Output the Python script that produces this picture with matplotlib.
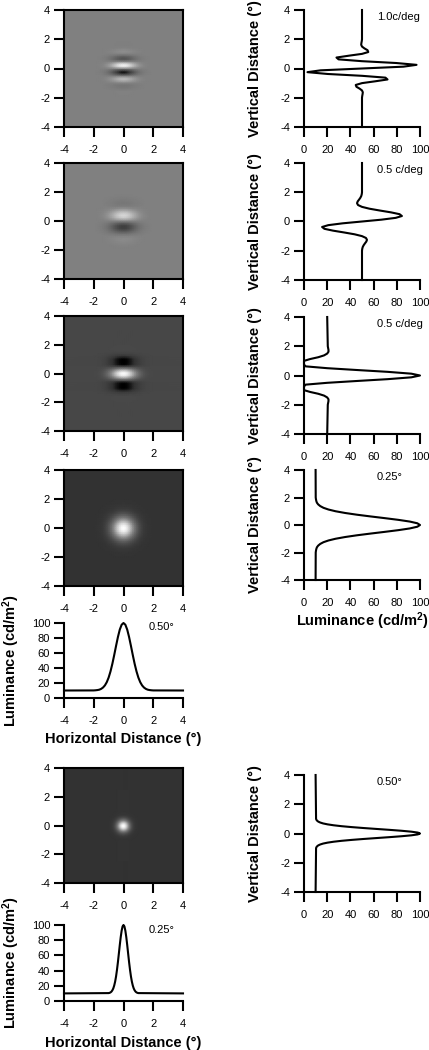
# Gabor / Gaussian stimuli: images with vertical and horizontal luminance profiles
import numpy as np
import matplotlib.pyplot as plt
from matplotlib.colors import LinearSegmentedColormap

plt.rcParams['font.family'] = ['Liberation Sans', 'DejaVu Sans']
plt.rcParams['mathtext.fontset'] = 'custom'
plt.rcParams['mathtext.rm'] = 'Liberation Sans'
plt.rcParams['mathtext.bf'] = 'Liberation Sans:bold'
plt.rcParams['axes.unicode_minus'] = False  # plain hyphen minus as in the original

# ------------------ data ------------------
# sample positions (deg) for the profiles of rows 1-4
pos = [-4, -2.0, -1.875, -1.75, -1.625, -1.5, -1.375, -1.25, -1.125, -1.0,
       -0.875, -0.75, -0.625, -0.5, -0.375, -0.25, -0.125, 0.0,
       0.125, 0.25, 0.375, 0.5, 0.625, 0.75, 0.875, 1.0,
       1.125, 1.25, 1.375, 1.5, 1.625, 1.75, 1.875, 2.0, 4]

# vertical luminance profiles (cd/m2)
lum_gabor_1c = [50, 50, 50.2, 50.5, 50.7, 50, 47.9, 45.2, 44.6, 50,
                61.4, 72.0, 70.2, 50, 20.5, 3.0, 14.3, 50,
                85.7, 97.0, 79.5, 50, 29.8, 28.0, 38.6, 50,
                55.4, 54.8, 52.1, 50, 49.3, 49.5, 49.8, 50, 50]
lum_gabor_05c = [50, 50, 50.2, 50.6, 51.4, 52.5, 53.7, 54.3, 53.4, 50,
                 43.6, 34.6, 25.0, 17.6, 15.6, 20.9, 33.3, 50,
                 66.7, 79.1, 84.4, 82.4, 75.0, 65.4, 56.4, 50,
                 46.6, 45.7, 46.3, 47.5, 48.6, 49.4, 49.8, 50, 50]
lum_gabor_05c_dark = [20, 20.5, 20.8, 21.1, 21.1, 20, 17.3, 12.3, 5.3, 0,
                      0, 0, 1.4, 20, 45.6, 72.2, 92.5, 100,
                      92.5, 72.2, 45.6, 20, 1.4, 0, 0, 0,
                      5.3, 12.3, 17.3, 20, 21.1, 21.1, 20.8, 20.5, 20]
lum_gauss_wide = [10, 10.1, 10.3, 10.6, 11.1, 12.2, 14.0, 16.8, 21.1, 27.2,
                  35.4, 45.5, 57.2, 69.5, 81.3, 91.2, 97.7, 100,
                  97.7, 91.2, 81.3, 69.5, 57.2, 45.5, 35.4, 27.2,
                  21.1, 16.8, 14.0, 12.2, 11.1, 10.6, 10.3, 10.1, 10]

# horizontal envelopes of the Gabor patches (relative contrast)
env_1c = [0, 0.002, 0.005, 0.010, 0.018, 0.033, 0.057, 0.093, 0.147, 0.219,
          0.313, 0.426, 0.553, 0.684, 0.808, 0.910, 0.977, 1.0,
          0.977, 0.910, 0.808, 0.684, 0.553, 0.426, 0.313, 0.219,
          0.147, 0.093, 0.057, 0.033, 0.018, 0.010, 0.005, 0.002, 0]
env_05c = [0, 0.006, 0.011, 0.020, 0.035, 0.057, 0.090, 0.136, 0.199, 0.279,
           0.377, 0.488, 0.608, 0.727, 0.836, 0.923, 0.980, 1.0,
           0.980, 0.923, 0.836, 0.727, 0.608, 0.488, 0.377, 0.279,
           0.199, 0.136, 0.090, 0.057, 0.035, 0.020, 0.011, 0.006, 0]

# horizontal profile of the wide Gaussian (cd/m2)
hlum_gauss_wide = [10, 10.1, 10.3, 10.6, 11.1, 12.2, 14.0, 16.8, 21.1, 27.2,
                   35.4, 45.5, 57.2, 69.5, 81.3, 91.2, 97.7, 100,
                   97.7, 91.2, 81.3, 69.5, 57.2, 45.5, 35.4, 27.2,
                   21.1, 16.8, 14.0, 12.2, 11.1, 10.6, 10.3, 10.1, 10]

# finer sampling for the narrow Gaussian
pos_fine = [-4, -1.0, -0.9375, -0.875, -0.8125, -0.75, -0.6875, -0.625, -0.5625,
            -0.5, -0.4375, -0.375, -0.3125, -0.25, -0.1875, -0.125, -0.0625, 0.0,
            0.0625, 0.125, 0.1875, 0.25, 0.3125, 0.375, 0.4375, 0.5,
            0.5625, 0.625, 0.6875, 0.75, 0.8125, 0.875, 0.9375, 1.0, 4]
lum_gauss_narrow = [10, 10.4, 10.7, 11.3, 12.3, 14.0, 16.5, 20.3, 25.5,
                    32.4, 41.1, 51.2, 62.3, 73.6, 84.0, 92.5, 98.1, 100,
                    98.1, 92.5, 84.0, 73.6, 62.3, 51.2, 41.1, 32.4,
                    25.5, 20.3, 16.5, 14.0, 12.3, 11.3, 10.7, 10.4, 10]
hlum_gauss_narrow = [10, 10.4, 10.7, 11.3, 12.3, 14.0, 16.5, 20.3, 25.5,
                     32.4, 41.1, 51.2, 62.3, 73.6, 84.0, 92.5, 98.1, 100,
                     98.1, 92.5, 84.0, 73.6, 62.3, 51.2, 41.1, 32.4,
                     25.5, 20.3, 16.5, 14.0, 12.3, 11.3, 10.7, 10.4, 10]

backgrounds = [50, 50, 20, 10, 10]
peak_lum = 100
row_labels = ['1.0c/deg', '0.5 c/deg', '0.5 c/deg', '0.25°', '0.50°']
hprofile_labels = ['0.50°', '0.25°']
deg_ticks = [-4, -2, 0, 2, 4]
lum_ticks = [0, 20, 40, 60, 80, 100]
# ----------------------------------------------------------------

W, H = 429, 1050
fig = plt.figure(figsize=(W / 100, H / 100), dpi=100)

# display gray level for each luminance (screen not linear)
lum_cmap = LinearSegmentedColormap.from_list(
    'lum', [(0, '#000000'), (0.1, '#333333'), (0.2, '#474747'),
            (0.5, '#808080'), (1.0, '#ffffff')])

lum_label = r'Luminance (cd/m$\mathbf{^2}$)'


def px_axes(left, top, right, bottom):
    '''axes placed by pixel box'''
    return fig.add_axes([left / W, 1 - bottom / H, (right - left) / W, (bottom - top) / H])


def style(ax, box=False):
    ax.tick_params(direction='out', length=7, width=1.5, labelsize=8, colors='black')
    ax.tick_params(axis='x', pad=6)
    ax.tick_params(axis='y', pad=3)
    for s in ax.spines.values():
        s.set_linewidth(1.5)
    if not box:
        ax.spines['top'].set_visible(False)
        ax.spines['right'].set_visible(False)


def image_panel(box, img, xs, ys):
    ax = px_axes(*box)
    ax.pcolormesh(xs, ys, img, shading='gouraud', cmap=lum_cmap, vmin=0, vmax=100)
    ax.set_xlim(-4, 4)
    ax.set_ylim(-4, 4)
    ax.set_xticks(deg_ticks)
    ax.set_yticks(deg_ticks)
    style(ax, box=True)
    return ax


def vprofile_panel(box, lum, ys, label):
    ax = px_axes(*box)
    ax.plot(lum, ys, color='black', lw=1.5, clip_on=False)
    ax.set_xlim(0, 100)
    ax.set_ylim(-4, 4)
    ax.set_xticks(lum_ticks)
    ax.set_yticks(deg_ticks)
    style(ax)
    ax.set_ylabel('Vertical Distance (°)', fontsize=10.5, fontweight='bold')
    ax.yaxis.set_label_coords(-0.36, 0.5)
    ax.text(0.63, 0.94, label, transform=ax.transAxes, fontsize=8, va='center', ha='left')
    return ax


def hprofile_panel(box, lum, xs, label):
    ax = px_axes(*box)
    ax.plot(xs, lum, color='black', lw=1.5, clip_on=False)
    ax.set_xlim(-4, 4)
    ax.set_ylim(0, 100)
    ax.set_xticks(deg_ticks)
    ax.set_yticks(lum_ticks)
    style(ax)
    ax.set_ylabel(lum_label, fontsize=10.5, fontweight='bold')
    ax.yaxis.set_label_coords(-0.35, 0.5)
    ax.set_xlabel('Horizontal Distance (°)', fontsize=10.5, fontweight='bold')
    ax.xaxis.set_label_coords(0.5, -0.46)
    ax.text(0.71, 0.94, label, transform=ax.transAxes, fontsize=8, va='center', ha='left')
    return ax


# build 2-D images from the vertical profiles and horizontal envelopes
bg = backgrounds
img1 = bg[0] + np.outer(np.array(lum_gabor_1c) - bg[0], env_1c)
img2 = bg[1] + np.outer(np.array(lum_gabor_05c) - bg[1], env_05c)
img3 = bg[2] + np.outer(np.array(lum_gabor_05c_dark) - bg[2], env_05c)
img4 = bg[3] + np.outer(np.array(lum_gauss_wide) - bg[3],
                        (np.array(hlum_gauss_wide) - bg[3]) / (peak_lum - bg[3]))
img5 = bg[4] + np.outer(np.array(lum_gauss_narrow) - bg[4],
                        (np.array(hlum_gauss_narrow) - bg[4]) / (peak_lum - bg[4]))

# left column: images and horizontal profiles
image_panel((64, 10, 183, 127), img1, pos, pos)
image_panel((64, 163, 183, 279), img2, pos, pos)
image_panel((64, 316, 183, 431), img3, pos, pos)
image_panel((64, 470, 183, 586), img4, pos, pos)
hprofile_panel((64, 623, 183, 698), hlum_gauss_wide, pos, hprofile_labels[0])
image_panel((64, 768, 183, 883), img5, pos_fine, pos_fine)
hprofile_panel((64, 925, 183, 1001), hlum_gauss_narrow, pos_fine, hprofile_labels[1])

# right column: vertical profiles
vprofile_panel((304, 10, 420, 127), lum_gabor_1c, pos, row_labels[0])
vprofile_panel((304, 163, 420, 280), lum_gabor_05c, pos, row_labels[1])
vprofile_panel((304, 317, 420, 434), lum_gabor_05c_dark, pos, row_labels[2])
ax4 = vprofile_panel((304, 470, 420, 580), lum_gauss_wide, pos, row_labels[3])
ax4.set_xlabel(lum_label, fontsize=10.5, fontweight='bold', labelpad=2)
vprofile_panel((304, 775, 420, 892), lum_gauss_narrow, pos_fine, row_labels[4])

fig.savefig('out.png', dpi=100)
